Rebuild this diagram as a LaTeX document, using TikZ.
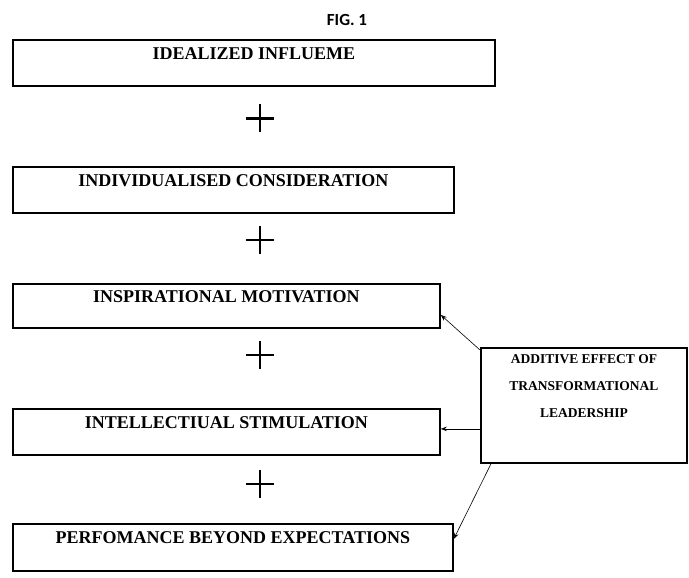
\documentclass[tikz,border=0pt]{standalone}
\usepackage{fontspec}
\setmainfont{Liberation Serif}
\newfontfamily\figfont{Carlito}
\usetikzlibrary{arrows.meta,calc}
\begin{document}
\begin{tikzpicture}[x=1pt,y=-1pt,
  stagebox/.style={draw, line width=1.8pt, anchor=north west, inner sep=0pt,
    minimum height=46pt, text height=20pt, text depth=26pt,
    font=\fontsize{18}{18}\selectfont\bfseries},
  effbox/.style={draw, line width=1.8pt, anchor=north west, inner sep=0pt,
    minimum width=206pt, align=center, text height=70pt, text depth=45pt,
    font=\fontsize{13.5}{27}\selectfont\bfseries},
  plussign/.style={inner sep=0pt, minimum size=28pt,
    path picture={
      \draw[line width=2.6pt] (path picture bounding box.west) -- (path picture bounding box.east);
      \draw[line width=2.6pt] (path picture bounding box.north) -- (path picture bounding box.south);
    }},
  conn/.style={line width=0.6pt, -{Stealth[length=6pt,width=4.5pt]}}
]
\useasboundingbox (0,0) rectangle (689,578);

\node[font=\figfont\fontsize{17}{17}\selectfont\bfseries] (title) at (347,20) {FIG. 1};

% the five stacked stages
\node[stagebox, minimum width=482pt] (b1) at (12,39) {IDEALIZED INFLUEME};
\node[stagebox, minimum width=441pt] (b2) at (12,166) {INDIVIDUALISED CONSIDERATION};
\node[stagebox, minimum width=427pt, minimum height=44pt, text height=19pt, text depth=25pt] (b3) at (12,283) {INSPIRATIONAL MOTIVATION};
\node[stagebox, minimum width=427pt] (b4) at (12,408) {INTELLECTIUAL STIMULATION};
\node[stagebox, minimum width=440pt, minimum height=47pt, text depth=27pt] (b5) at (12,523) {PERFOMANCE BEYOND EXPECTATIONS};

% plus signs between the stages
\node[plussign] (p1) at (260,118.5) {};
\node[plussign] (p2) at (260,240) {};
\node[plussign] (p3) at (260,355) {};
\node[plussign] (p4) at (260,484) {};

% summary box
\node[effbox] (eff) at (480,347) {ADDITIVE EFFECT OF\\TRANSFORMATIONAL\\LEADERSHIP};

% connectors
\coordinate (t3) at ([yshift=-9pt]b3.east);
\coordinate (t4) at ([yshift=3pt]b4.east);
\coordinate (t5) at ([yshift=8.5pt]b5.east);
\draw[conn] ([yshift=-3pt]eff.north west) -- (t3);
\draw[conn] (eff.west |- t4) -- (t4);
\draw[conn] ([xshift=11pt]eff.south west) -- (t5);
\end{tikzpicture}
\end{document}
